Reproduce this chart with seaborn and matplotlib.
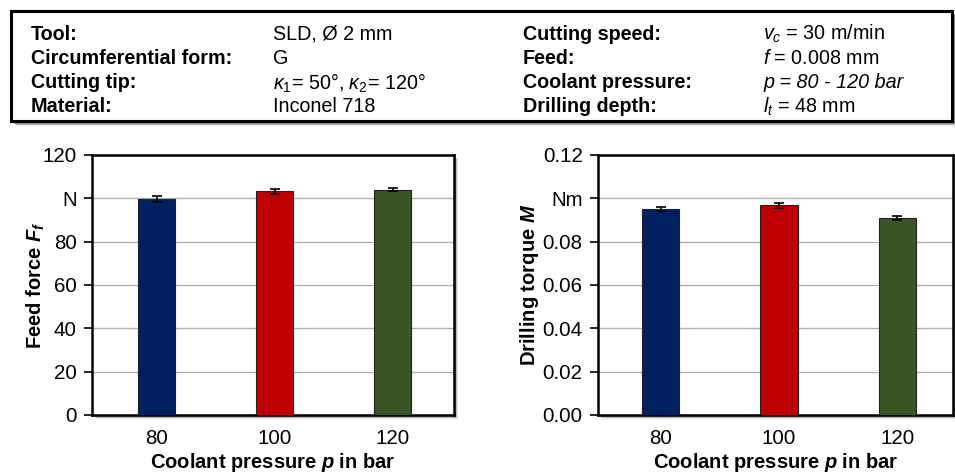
import numpy as np
import pandas as pd
import matplotlib
matplotlib.use("Agg")
import matplotlib.pyplot as plt
from matplotlib.patches import Rectangle
import seaborn as sns

# values
pressures = ["80", "100", "120"]
bar_colors = ["#002060", "#C00000", "#3A5624"]
feed_force = [99.7, 103.2, 104.0]
feed_force_err = [1.2, 1.3, 0.8]
torque = [0.0951, 0.0968, 0.0909]
torque_err = [0.0011, 0.0012, 0.0009]
force_ticks = [0, 20, 40, 60, 80, 100, 120]
force_ticklabels = ["0", "20", "40", "60", "80", "N", "120"]
torque_ticks = [0.0, 0.02, 0.04, 0.06, 0.08, 0.10, 0.12]
torque_ticklabels = ["0.00", "0.02", "0.04", "0.06", "0.08", "Nm", "0.12"]

info_left = [("Tool:", "SLD, Ø 2 mm"),
             ("Circumferential form:", "G"),
             ("Cutting tip:", r"$\kappa_1$= 50°, $\kappa_2$= 120°"),
             ("Material:", "Inconel 718")]
info_right = [("Cutting speed:", r"$v_c$ = 30 m/min"),
              ("Feed:", r"$f$ = 0.008 mm"),
              ("Coolant pressure:", "p = 80 - 120 bar"),
              ("Drilling depth:", r"$l_t$ = 48 mm")]

sns.set_style("white")
plt.rcParams["font.family"] = ["Liberation Sans", "DejaVu Sans"]
plt.rcParams["text.color"] = "black"
plt.rcParams["axes.labelcolor"] = "black"
plt.rcParams["xtick.color"] = "black"
plt.rcParams["ytick.color"] = "black"
plt.rcParams["mathtext.fontset"] = "custom"
plt.rcParams["mathtext.rm"] = "Liberation Sans"
plt.rcParams["mathtext.it"] = "Liberation Sans:italic"
plt.rcParams["mathtext.bf"] = "Liberation Sans:bold"
plt.rcParams["mathtext.bfit"] = "Liberation Sans:bold:italic"

W, H = 955, 474
fig = plt.figure(figsize=(9.55, 4.74), dpi=100)


def fx(px):
    return px / W


def fy(py):
    return 1 - py / H


def shadow(x0, y0, x1, y1, off=3):
    # soft grey drop shadow like the office-style frame
    for i, a in enumerate([0.10, 0.18, 0.28]):
        d = off + 2 - i
        fig.patches.append(Rectangle((fx(x0 + d), fy(y1 + d)), fx(x1 - x0), (y1 - y0) / H,
                                     transform=fig.transFigure, facecolor="black",
                                     alpha=a, edgecolor="none", zorder=0))


# header box
shadow(11, 11, 952, 121)
fig.patches.append(Rectangle((fx(11), fy(121)), fx(941), 110 / H, transform=fig.transFigure,
                             facecolor="white", edgecolor="black", linewidth=2.2, zorder=1))
rows_y = [34, 58, 83, 107]
for (lab, val), ry in zip(info_left, rows_y):
    fig.text(fx(31), fy(ry), lab, fontsize=14.2, fontweight="bold", va="center", zorder=2)
    fig.text(fx(273), fy(ry), val, fontsize=14.2, va="center", zorder=2)
for (lab, val), ry in zip(info_right, rows_y):
    fig.text(fx(523), fy(ry), lab, fontsize=14.2, fontweight="bold", va="center", zorder=2)
    st = "italic" if lab.startswith("Coolant") else "normal"
    fig.text(fx(763), fy(ry), val, fontsize=14.2, va="center", style=st, zorder=2)

# chart frames
ax1 = fig.add_axes([fx(92), fy(415), fx(362), 260 / H])
ax2 = fig.add_axes([fx(598), fy(415), fx(355), 260 / H])
shadow(92, 155, 454, 415, off=2)
shadow(598, 155, 953, 415, off=2)

df_force = pd.DataFrame({"p": pressures, "val": feed_force})
df_torque = pd.DataFrame({"p": pressures, "val": torque})

for ax, df, err, ticks, tlabels, ylab, xlim, ypad in [
        (ax1, df_force, feed_force_err, force_ticks, force_ticklabels,
         r"Feed force $\mathbfit{F}_\mathbfit{f}$", (-0.55, 2.52), -3),
        (ax2, df_torque, torque_err, torque_ticks, torque_ticklabels,
         r"Drilling torque $\mathbfit{M}$", (-0.53, 2.47), 1)]:
    ax.set_zorder(3)
    sns.barplot(data=df, x="p", y="val", hue="p", palette=bar_colors, legend=False,
                width=0.315, edgecolor="#222222", linewidth=0.8, saturation=1,
                ax=ax, zorder=3)
    ax.errorbar(range(len(pressures)), df["val"], yerr=err, fmt="none", ecolor="black",
                elinewidth=1.2, capsize=3.5, capthick=1.2, zorder=4)
    ax.set_ylim(ticks[0], ticks[-1])
    ax.set_xlim(*xlim)
    ax.set_yticks(ticks)
    ax.set_yticklabels(tlabels)
    ax.yaxis.grid(True, color="#b0b0b0", linewidth=1.0)
    ax.set_axisbelow(True)
    for s in ax.spines.values():
        s.set_visible(True)
        s.set_color("black")
        s.set_linewidth(1.8)
    ax.tick_params(axis="y", which="major", direction="out", length=6, width=1.2,
                   left=True, labelsize=14.8, pad=5)
    ax.tick_params(axis="x", length=0, labelsize=14.8, pad=10)
    ax.set_xlabel(r"Coolant pressure $\mathbfit{p}$ in bar", fontsize=14.5,
                  fontweight="bold", labelpad=2)
    ax.set_ylabel(ylab, fontsize=14.5, fontweight="bold", labelpad=ypad)

fig.savefig("out.png", dpi=100)
